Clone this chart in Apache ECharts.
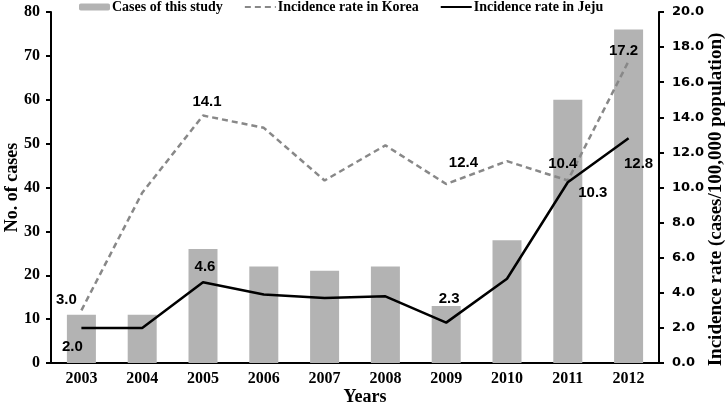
<!DOCTYPE html>
<html>
<head>
<meta charset="utf-8">
<script src="https://cdn.jsdelivr.net/npm/echarts@6/dist/echarts.min.js"></script>
<style>html,body{margin:0;padding:0;background:#fff}#c{width:725px;height:405px}</style>
</head>
<body>
<div id="c"></div>
<script>
var years = ['2003','2004','2005','2006','2007','2008','2009','2010','2011','2012'];
var cases = [11, 11, 26, 22, 21, 22, 13, 28, 60, 76];
var koreaRate = [3.0, 9.7, 14.1, 13.4, 10.4, 12.4, 10.2, 11.5, 10.4, 17.2];
var jejuRate = [2.0, 2.0, 4.6, 3.9, 3.7, 3.8, 2.3, 4.8, 10.3, 12.8];
var seriesNames = ['Cases of this study', 'Incidence rate in Korea', 'Incidence rate in Jeju'];

// label placement (index -> offset of label centre from the point)
var koreaLabelOffsets = {0: [-15, -10], 2: [4, -14], 5: [78, 17], 8: [-5, -17], 9: [-5, -10]};
var jejuLabelOffsets = {0: [-9, 19], 2: [2, -15], 6: [3, -24], 8: [25, 11], 9: [10, 25]};

var labelFont = {fontFamily: '"Liberation Sans", Arial, sans-serif', fontWeight: 'bold', fontSize: 15, color: '#000'};

function withLabels(values, offsets) {
  return values.map(function (v, i) {
    if (offsets[i]) {
      return {value: v, symbol: 'circle', symbolSize: 0.1,
        label: Object.assign({show: true, position: 'inside', offset: offsets[i],
        formatter: function (p) { return p.value.toFixed(1); }}, labelFont)};
    }
    return v;
  });
}

var serif = '"Liberation Serif", "Times New Roman", serif';
var chart = echarts.init(document.getElementById('c'), null, {renderer: 'canvas'});
chart.setOption({
  animation: false,
  backgroundColor: '#fff',
  grid: {left: 51, right: 66, top: 12, bottom: 42, containLabel: false, outerBoundsMode: 'none'},
  legend: {
    top: -5, left: 74, itemGap: 21, itemWidth: 31, itemHeight: 7,
    textStyle: {fontFamily: serif, fontWeight: 'bold', fontSize: 14, color: '#000', padding: [0, 0, 0, -3]},
    data: [
      {name: seriesNames[0]},
      {name: seriesNames[1], itemStyle: {opacity: 0}},
      {name: seriesNames[2], itemStyle: {opacity: 0}}
    ]
  },
  xAxis: {
    type: 'category', data: years,
    name: 'Years', nameLocation: 'middle', nameGap: 25, nameMoveOverlap: false,
    nameTextStyle: {fontFamily: serif, fontWeight: 'bold', fontSize: 18, color: '#000', padding: [0, 0, 0, 20]},
    axisLine: {lineStyle: {color: '#000', width: 2}},
    axisTick: {show: false},
    axisLabel: {fontFamily: serif, fontWeight: 'bold', fontSize: 16, color: '#000', margin: 8}
  },
  yAxis: [{
    type: 'value', min: 0, max: 80, interval: 10,
    name: 'No. of cases', nameLocation: 'middle', nameGap: 30, nameMoveOverlap: false,
    nameTextStyle: {fontFamily: serif, fontWeight: 'bold', fontSize: 18, color: '#000'},
    axisLine: {show: true, lineStyle: {color: '#000', width: 2}},
    axisTick: {show: true, length: 5, lineStyle: {color: '#000', width: 2}},
    splitLine: {show: false},
    axisLabel: {fontFamily: serif, fontWeight: 'bold', fontSize: 16, color: '#000', margin: 11}
  }, {
    type: 'value', min: 0, max: 20, interval: 2, position: 'right',
    name: 'Incidence rate (cases/100,000 population)', nameLocation: 'middle', nameGap: 48, nameMoveOverlap: false,
    nameTextStyle: {fontFamily: serif, fontWeight: 'bold', fontSize: 19, color: '#000', padding: [0, 24, 0, 0]},
    axisLine: {show: true, lineStyle: {color: '#000', width: 2}},
    axisTick: {show: true, length: 5, lineStyle: {color: '#000', width: 2}},
    splitLine: {show: false},
    axisLabel: {fontFamily: '"DejaVu Sans", Verdana, sans-serif', fontWeight: 'bold', fontSize: 13, color: '#000', margin: 13,
      formatter: function (v) { return v.toFixed(1); }}
  }],
  series: [{
    name: seriesNames[0], type: 'bar', data: cases, barWidth: 29,
    itemStyle: {color: '#b3b3b3'}
  }, {
    name: seriesNames[1], type: 'line', yAxisIndex: 1, data: withLabels(koreaRate, koreaLabelOffsets),
    symbol: 'none', lineStyle: {color: '#888888', width: 2.5, type: [6, 4]},
    itemStyle: {color: '#888888'}, z: 3
  }, {
    name: seriesNames[2], type: 'line', yAxisIndex: 1, data: withLabels(jejuRate, jejuLabelOffsets),
    symbol: 'none', lineStyle: {color: '#000', width: 2.5},
    itemStyle: {color: '#000'}, z: 4
  }]
});
</script>
</body>
</html>
